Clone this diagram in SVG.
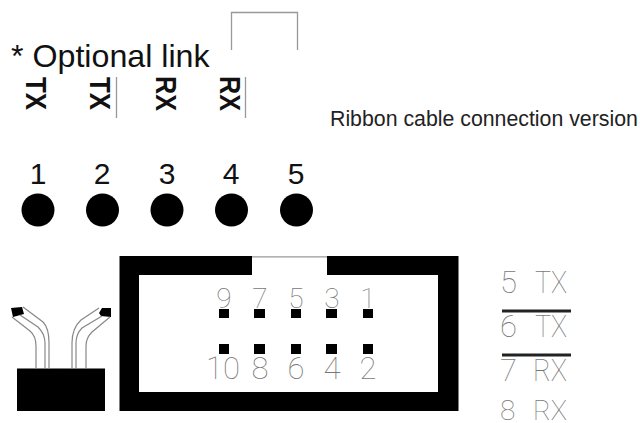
<svg xmlns="http://www.w3.org/2000/svg" width="640" height="423" viewBox="0 0 640 423">
<style>
text{font-family:"Liberation Sans",Arial,sans-serif}
.v{font-size:30px;font-weight:bold;fill:#111}
.n{font-size:30px;fill:#111;text-anchor:middle}
.p,.q,.s{font-family:Roboto,"Liberation Sans",sans-serif;font-weight:100;fill:#777}
.p{font-size:28px;text-anchor:middle}
.q{font-size:31px;text-anchor:middle}
.s{font-size:31px}
.g{fill:none;stroke:#999;stroke-width:1.3}
.w{fill:none;stroke:#888;stroke-width:1.2}
.b{fill:none;stroke:#222;stroke-width:3}
</style>
<rect width="640" height="423" fill="#fff"/>
<text x="11" y="67" font-size="32.200" fill="#111">* Optional link</text>
<text x="330" y="126" font-size="21.300" fill="#222">Ribbon cable connection version</text>
<g id="connectors">
<path class="g" d="M231.500 50V12.500H297.500V50"/>
<path class="g" d="M116.500 77V118M245.500 77V118"/>
</g>
<g id="label-tx1"><text class="v" textLength="33" lengthAdjust="spacingAndGlyphs" transform="translate(26,77) rotate(90)">TX</text></g>
<g id="label-tx2"><text class="v" textLength="33" lengthAdjust="spacingAndGlyphs" transform="translate(90,77) rotate(90)">TX</text></g>
<g id="label-rx3"><text class="v" textLength="35" lengthAdjust="spacingAndGlyphs" transform="translate(156,76) rotate(90)">RX</text></g>
<g id="label-rx4"><text class="v" textLength="35" lengthAdjust="spacingAndGlyphs" transform="translate(220,76) rotate(90)">RX</text></g>
<g id="node-1"><text class="n" x="38" y="184">1</text><circle cx="38" cy="210" r="16.500" fill="#000"/></g>
<g id="node-2"><text class="n" x="102" y="184">2</text><circle cx="102.500" cy="210" r="16.500" fill="#000"/></g>
<g id="node-3"><text class="n" x="167" y="184">3</text><circle cx="167" cy="210" r="16.500" fill="#000"/></g>
<g id="node-4"><text class="n" x="231" y="184">4</text><circle cx="231.500" cy="210" r="16.500" fill="#000"/></g>
<g id="node-5"><text class="n" x="296" y="184">5</text><circle cx="296.500" cy="210" r="16.500" fill="#000"/></g>
<g id="cable">
<rect x="17" y="368.500" width="88" height="42.500" fill="#000"/>
<path fill="#000" d="M11 308L22 307L24 314L13 317Z"/>
<path fill="#000" d="M99 313L102 308L111 308V317L101 316Z"/>
<path class="w" d="M23 307L43 322Q49 328 49 343V369M45 369V343Q45 334 38 327L20 315M36 369V346Q36 336 30 331L12 317"/>
<path class="w" d="M99 308L81 320Q72 328 72 343V369M76 369V343Q76 334 82 328L102 316M86 369V346Q86 338 92 332L110 317"/>
</g>
<g id="connector-body">
<path fill="#000" fill-rule="evenodd" d="M119.500 256H252V275H327V256H458.500V411H119.500ZM139 275V392H438V275Z"/>
<path class="g" d="M252 256.800H327" stroke="#888"/>
</g>
<g id="pins" fill="#000">
<rect x="219" y="309" width="10" height="9"/><rect x="254" y="309" width="11" height="9"/><rect x="291" y="309" width="10" height="9"/><rect x="326" y="309" width="11" height="9"/><rect x="363" y="309" width="10" height="9"/>
<rect x="219" y="344" width="10" height="10"/><rect x="254" y="344" width="11" height="10"/><rect x="291" y="344" width="10" height="10"/><rect x="326" y="344" width="11" height="10"/><rect x="363" y="344" width="10" height="10"/>
</g>
<g id="pin-labels">
<text class="p" x="224" y="308">9</text><text class="p" x="260" y="308">7</text><text class="p" x="296" y="308">5</text><text class="p" x="332" y="308">3</text><text class="p" x="368" y="308">1</text>
<text class="q" x="223" y="379">10</text><text class="q" x="260" y="379">8</text><text class="q" x="296" y="379">6</text><text class="q" x="332" y="379">4</text><text class="q" x="368" y="379">2</text>
</g>
<g id="signal-legend">
<text class="s" x="500" y="293">5</text><text class="s" x="535" y="293" textLength="32" lengthAdjust="spacingAndGlyphs">TX</text>
<path class="b" d="M502 311H571"/>
<text class="s" x="500" y="337">6</text><text class="s" x="535" y="337" textLength="32" lengthAdjust="spacingAndGlyphs">TX</text>
<path class="b" d="M502 355H571"/>
<text class="s" x="500" y="381">7</text><text class="s" x="533" y="381" textLength="34" lengthAdjust="spacingAndGlyphs">RX</text>
<text class="s" x="500" y="420" style="font-size:28px">8</text><text class="s" x="533" y="420" style="font-size:28px" textLength="34" lengthAdjust="spacingAndGlyphs">RX</text>
</g>
</svg>
